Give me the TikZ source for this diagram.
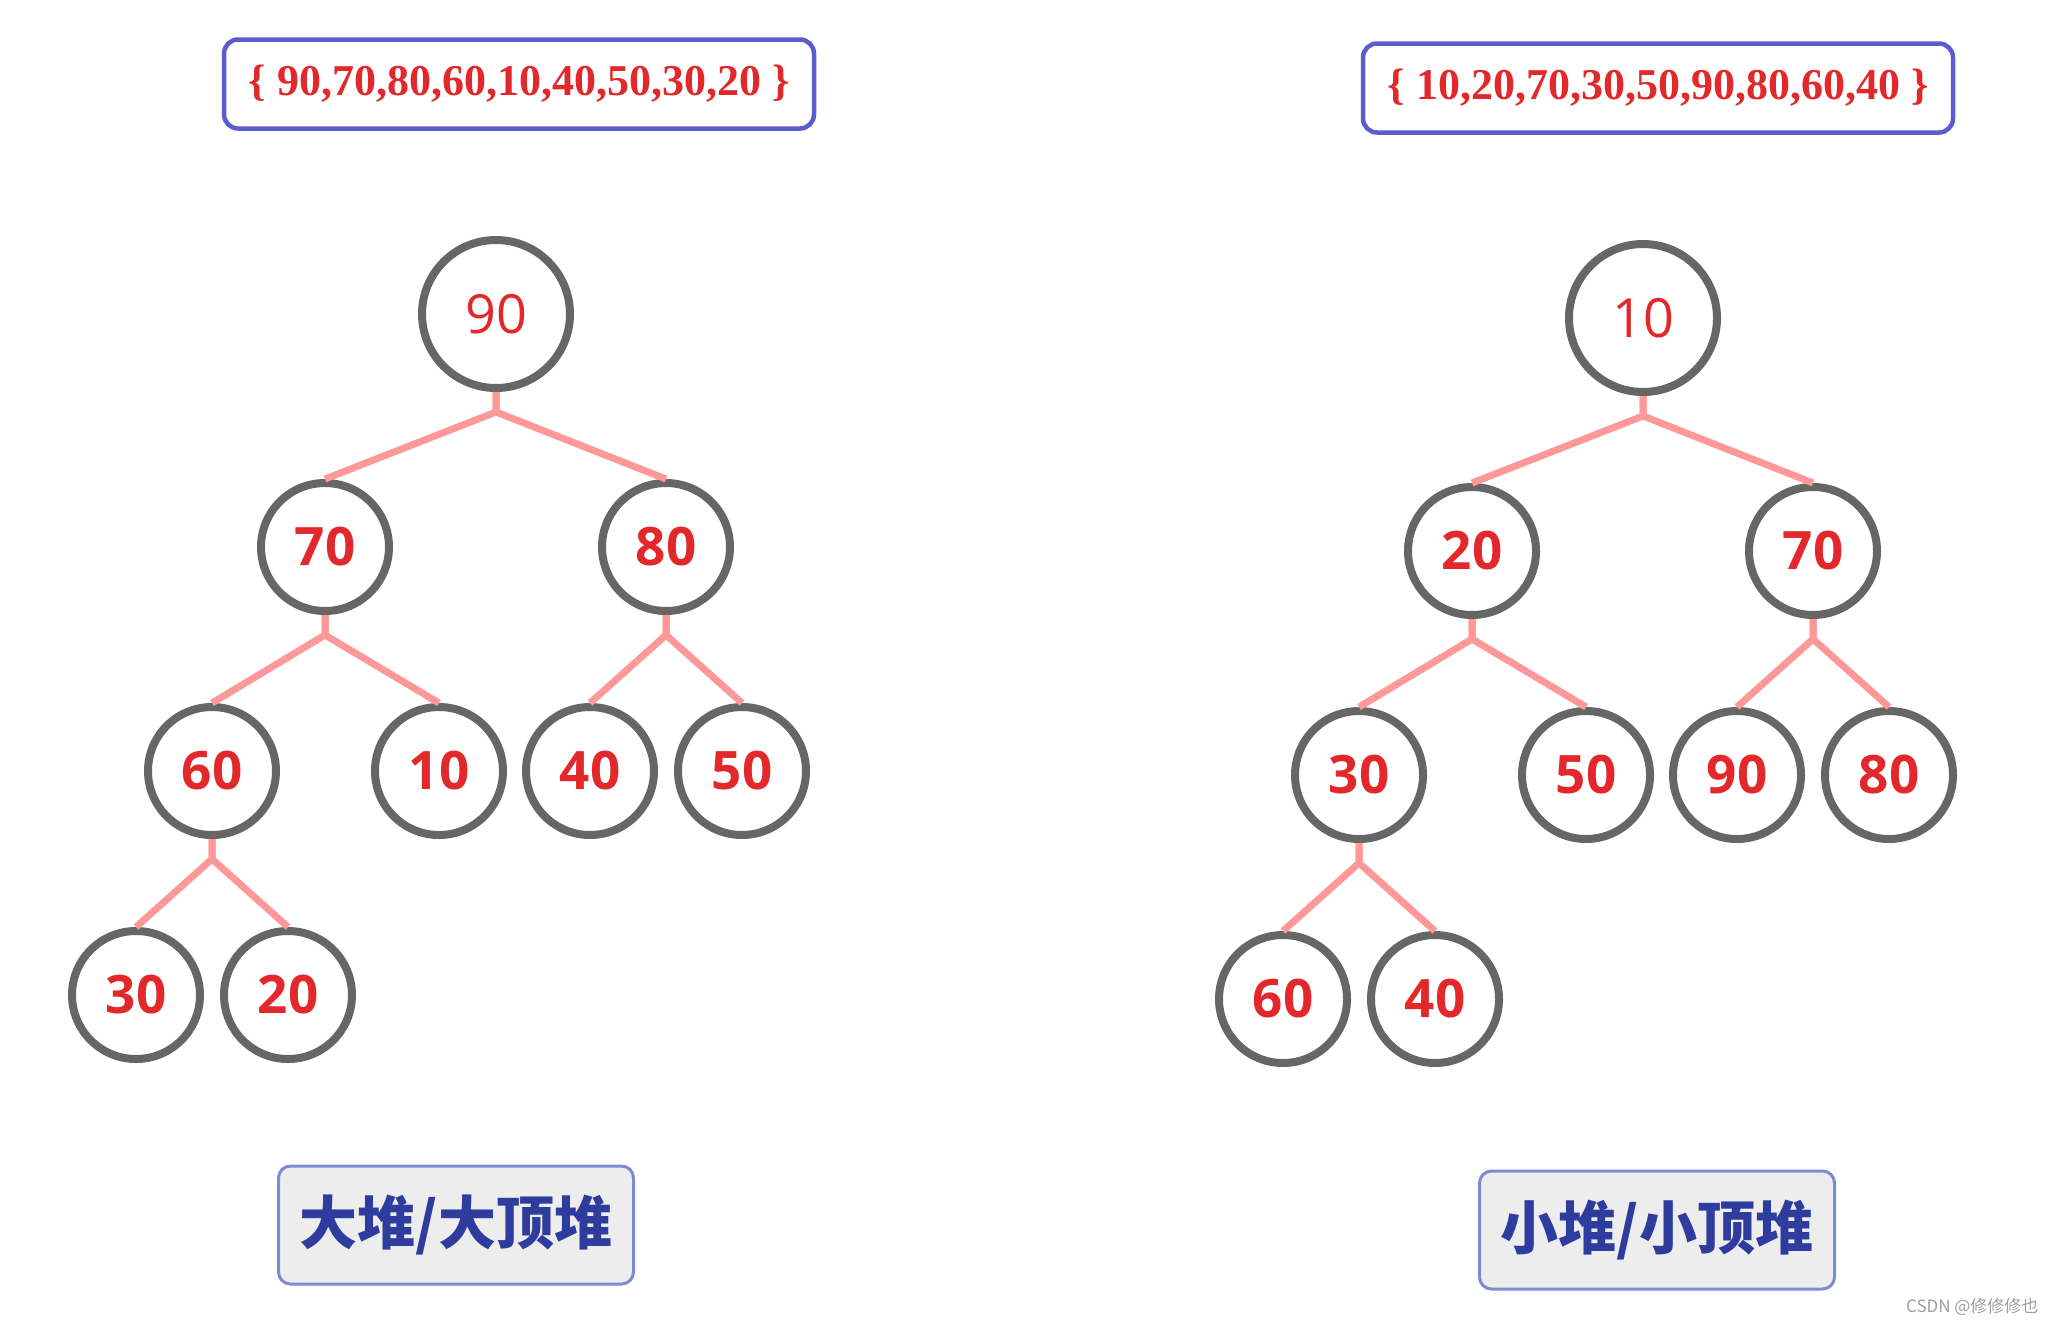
\documentclass[tikz,border=0pt]{standalone}
\usepackage{fontspec}
\setmainfont{Liberation Serif}
\newfontfamily\numfont{Open Sans}
\newfontfamily\cjk{Noto Sans CJK SC}
\usetikzlibrary{positioning}
\definecolor{heapred}{RGB}{226,40,42}
\definecolor{ringgray}{RGB}{102,102,102}
\definecolor{edgepink}{RGB}{255,153,153}
\definecolor{seqblue}{RGB}{92,92,206}
\definecolor{tagblue}{RGB}{46,60,158}
\definecolor{tagline}{RGB}{125,140,210}

\begin{document}
\begin{tikzpicture}[
  x=1pt, y=-1pt,
  key/.style={circle, draw=ringgray, line width=8pt, fill=white, inner sep=0pt,
              minimum size=128pt, text=heapred, font=\numfont\bfseries\fontsize{53}{53}\selectfont},
  top/.style={key, minimum size=148pt, font=\numfont\fontsize{54}{54}\selectfont},
  edge/.style={draw=edgepink, line width=7pt},
  seq/.style={draw=seqblue, line width=4.5pt, rounded corners=14pt, fill=white,
              minimum width=590pt, minimum height=89pt, text=heapred,
              font=\bfseries\fontsize{44}{44}\selectfont},
  tag/.style={draw=tagline, line width=3pt, rounded corners=12pt, fill=black!7,
              minimum width=355pt, minimum height=118pt, text=tagblue,
              font=\cjk\bfseries\fontsize{58}{58}\selectfont}
]
\useasboundingbox (0,0) rectangle (2055,1325);

% max heap
\node[top] (l90) at (496,314) {90};
\node[key] (l70) at (325,547) {70};
\node[key] (l80) at (666,547) {80};
\node[key] (l60) at (212,771) {60};
\node[key] (l10) at (439,771) {10};
\node[key] (l40) at (590,771) {40};
\node[key] (l50) at (742,771) {50};
\node[key] (l30) at (136,995) {30};
\node[key] (l20) at (288,995) {20};

% min heap
\node[top] (r10) at (1643,318) {10};
\node[key] (r20) at (1472,551) {20};
\node[key] (r70) at (1813,551) {70};
\node[key] (r30) at (1359,775) {30};
\node[key] (r50) at (1586,775) {50};
\node[key] (r90) at (1737,775) {90};
\node[key] (r80) at (1889,775) {80};
\node[key] (r60) at (1283,999) {60};
\node[key] (r40) at (1435,999) {40};

\foreach \p/\c in {l90/l70, l90/l80, l70/l60, l70/l10, l80/l40, l80/l50, l60/l30, l60/l20,
                   r10/r20, r10/r70, r20/r30, r20/r50, r70/r90, r70/r80, r30/r60, r30/r40}
  \draw[edge] (\p.south) -- ++(0,20) -- (\c.north);

\node[seq] (lseq) at (519,84) {\{ 90,70,80,60,10,40,50,30,20 \}};
\node[seq] (rseq) at (1658,88) {\{ 10,20,70,30,50,90,80,60,40 \}};

\node[tag] (ltag) at (456,1225) {大堆/大顶堆};
\node[tag] (rtag) at (1657,1230) {小堆/小顶堆};

\node[anchor=east, text=black!38, font=\cjk\fontsize{17}{17}\selectfont] (mark)
  at (2042,1307) {CSDN @修修修也};
\end{tikzpicture}
\end{document}
